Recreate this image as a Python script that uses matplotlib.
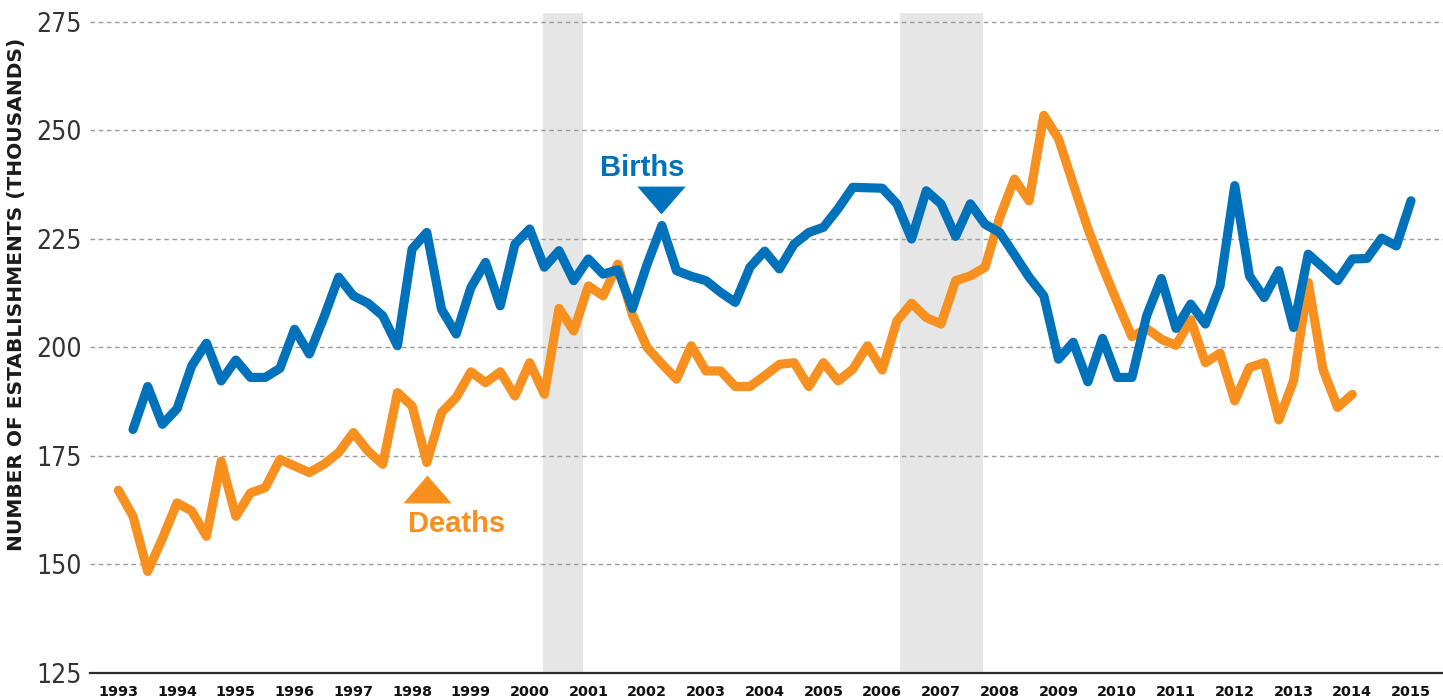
import numpy as np
import matplotlib
matplotlib.use("Agg")
import matplotlib.pyplot as plt
from matplotlib import font_manager

# ---------------- data (thousands of establishments, quarterly) ----------------
births_start = 1993.25   # first quarter shown for births
deaths_start = 1993.0    # first quarter shown for deaths
births = [181.1, 191.0, 182.3, 185.9, 195.8, 201.0, 192.3, 197.1, 193.1, 193.1,
          195.2, 204.2, 198.5, 207.0, 216.2, 211.9, 210.2, 207.3, 200.4, 222.7,
          226.5, 208.8, 203.1, 213.8, 219.6, 209.6, 223.8, 227.3, 218.5, 222.3,
          215.4, 220.4, 216.9, 217.9, 209.0, 219.2, 228.1, 217.7, 216.4, 215.4,
          212.7, 210.4, 218.5, 222.2, 218.1, 223.8, 226.5, 227.7, 232.0, 236.9,
          236.8, 236.7, 233.1, 225.0, 236.1, 233.1, 225.6, 233.1, 228.4, 226.5,
          221.4, 216.2, 211.9, 197.3, 201.2, 192.1, 202.1, 193.1, 193.1, 207.3,
          215.9, 204.4, 210.0, 205.4, 214.2, 237.3, 216.5, 211.5, 217.7, 204.6,
          221.5, 218.5, 215.4, 220.4, 220.5, 225.2, 223.4, 233.8]
deaths = [167.1, 161.1, 148.4, 156.0, 164.2, 162.3, 156.5, 173.8, 161.1, 166.5,
          167.7, 174.2, 172.7, 171.2, 173.1, 175.8, 180.4, 176.1, 173.1, 189.6,
          186.5, 173.5, 185.0, 188.5, 194.4, 191.9, 194.4, 188.8, 196.5, 189.2,
          209.0, 203.8, 214.2, 211.9, 219.2, 207.5, 200.0, 196.2, 192.7, 200.4,
          194.6, 194.6, 191.0, 191.0, 193.5, 196.1, 196.5, 191.0, 196.5, 192.3,
          195.0, 200.4, 194.8, 206.1, 210.2, 206.9, 205.4, 215.4, 216.5, 218.5,
          230.0, 238.8, 233.8, 253.5, 248.1, 237.7, 227.4, 218.6, 210.4, 202.5,
          204.4, 201.9, 200.5, 206.4, 196.5, 198.7, 187.7, 195.4, 196.5, 183.3,
          192.3, 215.0, 195.0, 186.2, 189.2]
recessions = [(2000.23, 2000.91), (2006.30, 2007.72)]
year_ticks = list(range(1993, 2016))
value_ticks = [125, 150, 175, 200, 225, 250, 275]
births_label = ("Births", 2001.91, 239.5)
births_arrow = (2002.23, 234.0)
deaths_label = ("Deaths", 1998.75, 157.45)
deaths_arrow = (1998.26, 167.5)

# ---------------- styling ----------------
BLUE = "#0071BB"
ORANGE = "#F7901E"
BAND = "#E6E6E6"
GRID = "#9B9B9B"

names = {f.name for f in font_manager.fontManager.ttflist}
if "Liberation Sans Narrow" in names:
    tick_font = dict(family="Liberation Sans Narrow")
else:
    tick_font = dict(family="DejaVu Sans", stretch="condensed")
label_family = "Liberation Sans" if "Liberation Sans" in names else "DejaVu Sans"

plt.rcParams["lines.scale_dashes"] = False

W, H = 1443, 698
fig = plt.figure(figsize=(W / 100, H / 100), dpi=100)
top_px, bot_px, left_px = 13.3, 673.0, 90.0
ax = fig.add_axes([left_px / W, (H - bot_px) / H, 1 - left_px / W, (bot_px - top_px) / H])
ax.set_xlim(1992.518, 2015.544)
ax.set_ylim(125, 277)

for a, b in recessions:
    ax.axvspan(a, b, color=BAND, lw=0, zorder=0)

ax.set_yticks(value_ticks)
ax.set_xticks(year_ticks)
ax.set_xticklabels([str(y) for y in year_ticks])
for v in value_ticks[1:]:
    ax.axhline(v, color=GRID, lw=1.0, dashes=(3.3, 2.6), zorder=1)

xd = deaths_start + np.arange(len(deaths)) / 4.0
xb = births_start + np.arange(len(births)) / 4.0
ax.plot(xd, deaths, color=ORANGE, lw=6.6, solid_joinstyle="round",
        solid_capstyle="round", zorder=3)
ax.plot(xb, births, color=BLUE, lw=6.6, solid_joinstyle="round",
        solid_capstyle="round", zorder=4)

for s in ["top", "right", "left"]:
    ax.spines[s].set_visible(False)
ax.spines["bottom"].set_color("#2b2b2b")
ax.spines["bottom"].set_linewidth(1.6)
ax.spines["bottom"].set_zorder(5)

ax.tick_params(axis="both", length=0)
ax.tick_params(axis="y", pad=6, labelcolor="#333333")
ax.tick_params(axis="x", pad=9, labelcolor="#111111")
for t in ax.get_yticklabels():
    t.set_fontsize(19)
    t.set_fontfamily(tick_font["family"])
    if "stretch" in tick_font:
        t.set_fontstretch(tick_font["stretch"])
for t in ax.get_xticklabels():
    t.set_fontsize(10.4)
    t.set_fontweight("bold")
    t.set_fontfamily("DejaVu Sans")

# series labels with triangle pointers
down_tri = [(-1, 0.575), (1, 0.575), (0, -0.575)]
up_tri = [(-1, -0.575), (1, -0.575), (0, 0.575)]
ax.text(births_label[1], births_label[2], births_label[0], color=BLUE,
        fontsize=21, fontweight="bold", family=label_family,
        ha="center", va="baseline", zorder=6)
ax.plot([births_arrow[0]], [births_arrow[1]], marker=down_tri, ms=34.8,
        color=BLUE, mew=0, zorder=6)
ax.text(deaths_label[1], deaths_label[2], deaths_label[0], color=ORANGE,
        fontsize=21, fontweight="bold", family=label_family,
        ha="center", va="baseline", zorder=6)
ax.plot([deaths_arrow[0]], [deaths_arrow[1]], marker=up_tri, ms=34.8,
        color=ORANGE, mew=0, zorder=6)

fig.text(16.5 / W, (H - 294) / H, "NUMBER OF ESTABLISHMENTS (THOUSANDS)",
         rotation=90, ha="center", va="center", fontsize=14.5,
         fontweight="bold", family="DejaVu Sans", color="#1a1a1a")

fig.savefig("out.png", dpi=100)
